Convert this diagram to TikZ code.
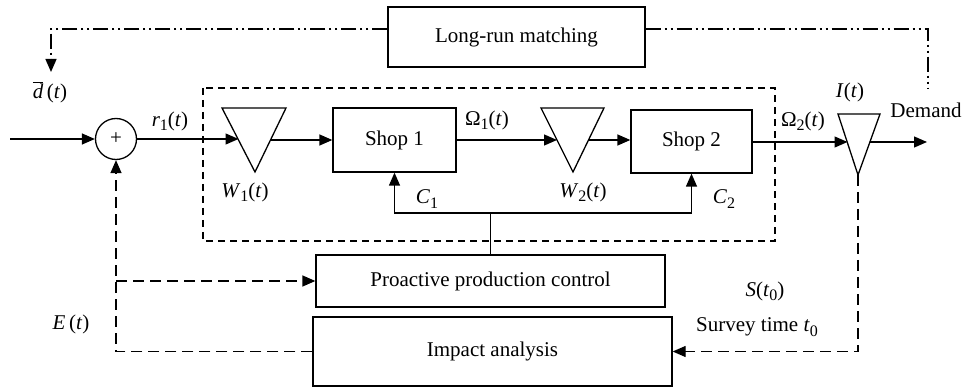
\documentclass[tikz,border=0pt]{standalone}
\usepackage{fontspec}
\setmainfont{Liberation Serif}
\usetikzlibrary{arrows.meta,calc}
\tikzset{
  box/.style={draw, line width=1.3pt, inner sep=0pt},
  ln/.style={line width=1.3pt},
  arr/.style={ln, -{Triangle[length=13pt,width=11pt]}},
  regiondash/.style={line width=1.3pt, dash pattern=on 7pt off 5pt},
  fbdash/.style={line width=1.3pt, dash pattern=on 11pt off 6pt},
  ddot/.style={line width=1.3pt, dash pattern=on 15pt off 4pt on 2pt off 4pt on 2pt off 4pt},
  lbl/.style={inner sep=0pt}
}
\newcommand\sbs[1]{\raisebox{-0.45ex}{\fontsize{16}{16}\selectfont #1}}
\begin{document}
\begin{tikzpicture}[x=1pt,y=-1pt,font=\fontsize{21}{25}\selectfont]
\useasboundingbox (0,0) rectangle (966,387);
% boxes
\node[box, minimum width=257pt, minimum height=60pt] (lr) at (516.5,37) {Long-run matching};
\node[box, minimum width=123pt, minimum height=64pt] (s1) at (394.5,140) {Shop 1};
\node[box, minimum width=121pt, minimum height=63pt] (s2) at (691.5,141.5) {Shop 2};
\node[box, minimum width=349pt, minimum height=52pt] (pp) at (490.5,281) {Proactive production control};
\node[box, minimum width=359pt, minimum height=69pt] (ia) at (492.5,351.5) {Impact analysis};
\node[draw, circle, line width=1.3pt, minimum size=41pt, inner sep=0pt] (sum) at (116,139) {+};
% dashed region
\draw[regiondash] (203,88) rectangle (775,241);
% triangles
\draw[ln] (222,108) -- (286,108) -- (255,172) -- cycle;
\coordinate (w1l) at (238.5,140);
\coordinate (w1r) at (270.5,140);
\draw[ln] (541,108) -- (604,108) -- (573,172) -- cycle;
\coordinate (w2l) at (557,140);
\coordinate (w2r) at (588.5,140);
\draw[ln] (838,114) -- (880,114) -- (858,175) -- cycle;
\coordinate (il) at (847.5,142);
\coordinate (ir) at (869.5,142);
\coordinate (iapex) at (858,175);
\coordinate (in) at (10,139);
\coordinate (out) at (927,142);
% main flow
\draw[arr] (in) -- (sum.west);
\draw[arr] (sum.east) -- (sum.east -| w1l);
\draw[arr] (w1r) -- (s1.west |- w1r);
\draw[arr] (s1.east |- w2l) -- (w2l);
\draw[arr] (w2r) -- (s2.west |- w2r);
\draw[arr] (s2.east |- il) -- (il);
\draw[arr] (ir) -- (out);
% control
\coordinate (j) at (490.5,213);
\draw[ln] (pp.north) -- (j);
\draw[arr] (j) -| (s1.south);
\draw[arr] (j) -| (s2.south);
% feedback E
\coordinate (eb) at (116,281);
\draw[fbdash, -{Triangle[length=13pt,width=11pt]}] (ia.west) -| (sum.south);
\draw[fbdash, -{Triangle[length=13pt,width=11pt]}] (eb) -- (pp.west);
% survey
\draw[fbdash, -{Triangle[length=13pt,width=11pt]}] (iapex) |- (ia.east);
% long-run
\coordinate (dtip) at (51,72);
\coordinate (rtop) at (928,89);
\draw[ddot, -{Triangle[length=13pt,width=11pt]}] ([yshift=8pt]lr.west) -| (dtip);
\draw[ddot] ([yshift=8pt]lr.east) -| (rtop);
% labels
\node[lbl] at (50,92) {$\overline{\hbox{\textit{d}}}$\,(\textit{t})};
\node[lbl] at (170,121) {\textit{r}\sbs{1}(\textit{t})};
\node[lbl] at (245,192) {\textit{W}\sbs{1}(\textit{t})};
\node[lbl] at (487,120) {Ω\sbs{1}(\textit{t})};
\node[lbl] at (583,192) {\textit{W}\sbs{2}(\textit{t})};
\node[lbl] at (427,199) {\textit{C}\sbs{1}};
\node[lbl] at (724,199) {\textit{C}\sbs{2}};
\node[lbl] at (803,121) {Ω\sbs{2}(\textit{t})};
\node[lbl] at (850,92) {\textit{I}(\textit{t})};
\node[lbl] at (926,110) {Demand};
\node[lbl] at (71,324) {\textit{E}\,(\textit{t})};
\node[lbl] at (765,291) {\textit{S}(\textit{t}\sbs{0})};
\node[lbl] at (757,327) {Survey time \textit{t}\sbs{0}};
\end{tikzpicture}
\end{document}
